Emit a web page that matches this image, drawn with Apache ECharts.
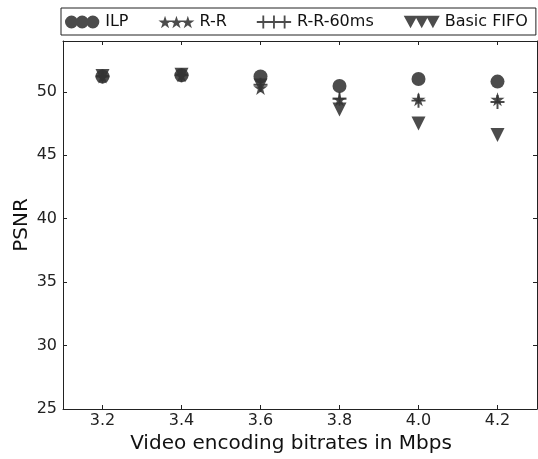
<!DOCTYPE html>
<html>
<head>
<meta charset="utf-8">
<script src="https://cdn.jsdelivr.net/npm/echarts@6/dist/echarts.min.js"></script>
<style>
  html, body { margin: 0; padding: 0; background: #fff; }
  #chart { width: 538px; height: 459px; }
</style>
</head>
<body>
<div id="chart"></div>
<script>
// data
const bitrates = [3.2, 3.4, 3.6, 3.8, 4.0, 4.2]
const ilp = [51.2, 51.3, 51.2, 50.45, 51.0, 50.8]
const rr = [51.2, 51.3, 50.3, 49.4, 49.4, 49.4]
const rr60 = [51.2, 51.3, 50.55, 49.45, 49.3, 49.2]
const fifo = [51.25, 51.35, 50.5, 48.6, 47.5, 46.6]
const xTicks = [3.2, 3.4, 3.6, 3.8, 4.0, 4.2]
const yTicks = [25, 30, 35, 40, 45, 50]

const FONT = 'DejaVu Sans'
const markColor = '#333333'

// shape outlines in a 100x100 box
const starPts = [[50,0],[61.17,34.63],[97.55,34.55],[68.07,55.87],[79.39,90.45],[50,69],[20.61,90.45],[31.93,55.87],[2.45,34.55],[38.83,34.63]]
const plusPts = [[43,0],[57,0],[57,43],[100,43],[100,57],[57,57],[57,100],[43,100],[43,57],[0,57],[0,43],[43,43]]
const triPts = [[0,0],[100,0],[50,90]]

const poly = (pts, dx) => 'M' + pts.map(p => (p[0] + dx) + ',' + p[1]).join(' L') + ' Z'
const circle = dx => `M${dx},50 a50,50 0 1,0 100,0 a50,50 0 1,0 -100,0 Z`
const triple = fn => 'path://' + [0, 82, 164].map(fn).join(' ')

const series = [
  {name: 'ILP', symbol: 'circle', icon: triple(circle), values: ilp},
  {name: 'R-R', symbol: 'path://' + poly(starPts, 0), icon: triple(dx => poly(starPts, dx)), values: rr},
  {name: 'R-R-60ms', symbol: 'path://' + poly(plusPts, 0), icon: triple(dx => poly(plusPts, dx)), values: rr60},
  {name: 'Basic FIFO', symbol: 'triangle', rotate: 180, icon: triple(dx => poly(triPts, dx)), values: fifo},
]

const axisCommon = {
  axisLine: {show: true, lineStyle: {color: '#222', width: 1}},
  splitLine: {show: false},
}

const chart = echarts.init(document.getElementById('chart'))
chart.setOption({
  animation: false,
  textStyle: {fontFamily: FONT},
  legend: {
    left: 61,
    top: 8,
    padding: [6, 8, 5, 4],
    itemGap: 30,
    itemWidth: 36,
    itemHeight: 13,
    borderColor: '#222',
    borderWidth: 1,
    textStyle: {fontFamily: FONT, fontSize: 16, color: '#111'},
    data: series.map(s => ({name: s.name, icon: s.icon})),
  },
  grid: {left: 63, right: 1, top: 41, bottom: 50, outerBoundsMode: 'none'},
  xAxis: [
    {
      type: 'value', min: 3.1, max: 4.3,
      ...axisCommon,
      name: 'Video encoding bitrates in Mbps',
      nameLocation: 'middle',
      nameGap: 24,
      nameTextStyle: {fontFamily: FONT, fontSize: 20, color: '#111', padding: [0, 18, 0, 0]},
      axisTick: {inside: true, length: 4, customValues: xTicks, lineStyle: {color: '#222'}},
      axisLabel: {customValues: xTicks, formatter: v => v.toFixed(1), fontSize: 16, color: '#222', margin: 4},
    },
    {
      type: 'value', min: 3.1, max: 4.3, position: 'top',
      ...axisCommon,
      axisTick: {inside: true, length: 4, customValues: xTicks, lineStyle: {color: '#222'}},
      axisLabel: {show: false},
    },
  ],
  yAxis: [
    {
      type: 'value', min: 25, max: 54,
      ...axisCommon,
      name: 'PSNR',
      nameLocation: 'middle',
      nameGap: 31,
      nameMoveOverlap: false,
      nameTextStyle: {fontFamily: FONT, fontSize: 20, color: '#111'},
      axisTick: {inside: true, length: 4, customValues: yTicks, lineStyle: {color: '#222'}},
      axisLabel: {customValues: yTicks, fontSize: 16, color: '#222', margin: 6},
    },
    {
      type: 'value', min: 25, max: 54, position: 'right',
      ...axisCommon,
      axisTick: {inside: true, length: 4, customValues: yTicks, lineStyle: {color: '#222'}},
      axisLabel: {show: false},
    },
  ],
  series: series.map(s => ({
    name: s.name,
    type: 'scatter',
    symbol: s.symbol,
    symbolSize: 14,
    symbolRotate: s.rotate || 0,
    itemStyle: {color: markColor, opacity: 0.88},
    data: bitrates.map((b, i) => [b, s.values[i]]),
  })),
})
</script>
</body>
</html>
